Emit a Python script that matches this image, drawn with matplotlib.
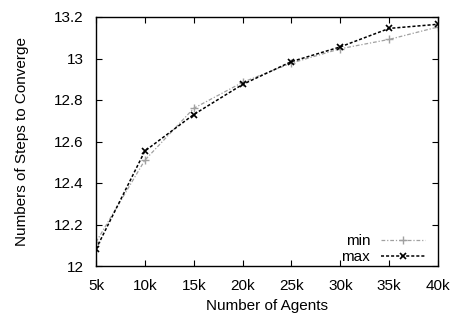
import matplotlib
matplotlib.use('Agg')
import matplotlib.pyplot as plt

plt.rcParams['font.family'] = ['Liberation Sans', 'DejaVu Sans']

# data
agents = [5, 10, 15, 20, 25, 30, 35, 40]
x_labels = ['5k', '10k', '15k', '20k', '25k', '30k', '35k', '40k']
steps_min = [12.115, 12.51, 12.76, 12.885, 12.978, 13.047, 13.092, 13.152]
steps_max = [12.082, 12.554, 12.73, 12.875, 12.985, 13.056, 13.145, 13.165]
y_ticks = [12, 12.2, 12.4, 12.6, 12.8, 13, 13.2]
y_labels = ['12', '12.2', '12.4', '12.6', '12.8', '13', '13.2']

fs = 11

fig = plt.figure(figsize=(4.56, 3.14), dpi=100)
ax = fig.add_axes([96 / 456, 48 / 314, 342 / 456, 249 / 314])

ax.plot(agents, steps_min, color='#a0a0a0', linestyle=(0, (3, 1.5, 1, 1.5)), linewidth=0.9,
        marker='+', markersize=6, markeredgewidth=1.0, label='min')
ax.plot(agents, steps_max, color='black', linestyle=(0, (2, 1.3)), linewidth=1.1,
        marker='x', markersize=5, markeredgewidth=1.2, label='max')

ax.set_xlim(5, 40)
ax.set_ylim(12, 13.2)
ax.set_xticks(agents)
ax.set_xticklabels(x_labels)
ax.set_yticks(y_ticks)
ax.set_yticklabels(y_labels)
ax.tick_params(direction='in', top=True, right=True, length=4, width=0.8, labelsize=fs)
ax.tick_params(axis='x', pad=9.5)
ax.tick_params(axis='y', pad=9)
for s in ax.spines.values():
    s.set_linewidth(1.0)

ax.set_xlabel('Number of Agents', fontsize=fs, labelpad=4)
ax.set_ylabel('Numbers of Steps to Converge', fontsize=fs, labelpad=18)

ax.legend(loc='lower right', markerfirst=False, frameon=False, fontsize=fs,
          handlelength=2.9, handletextpad=0.7, labelspacing=0.15,
          borderaxespad=0.0, bbox_to_anchor=(0.98, -0.018))

fig.savefig('out.png', dpi=100)
